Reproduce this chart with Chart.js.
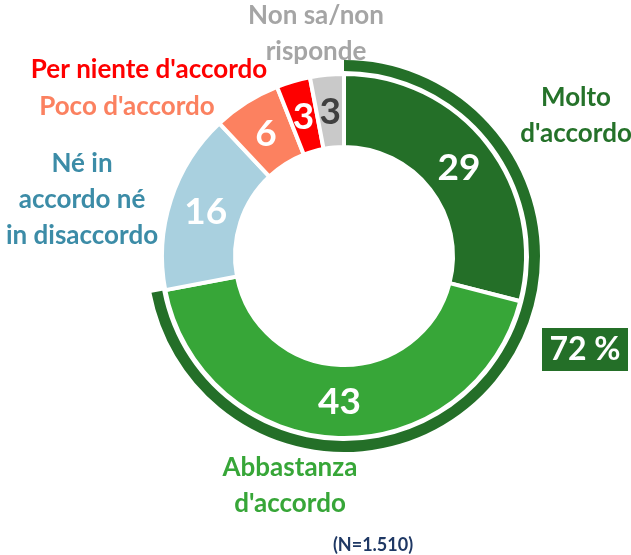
<!DOCTYPE html>
<html>
<head>
<meta charset="utf-8">
<script src="https://cdn.jsdelivr.net/npm/chart.js@4"></script>
<style>
  html, body { margin: 0; padding: 0; background: #fff; }
  #wrap { position: relative; width: 631px; height: 555px; }
  #myChart { position: absolute; left: 0; top: 0; }
</style>
</head>
<body>
<div id="wrap"><canvas id="myChart" width="631" height="555"></canvas></div>
<script>
// categorie e valori (%)
const categories = ["Molto d'accordo", "Abbastanza d'accordo", "Né in accordo né in disaccordo",
  "Poco d'accordo", "Per niente d'accordo", "Non sa/non risponde"];
const values = [29, 43, 16, 6, 3, 3];
const colors = ['#246f28', '#37a638', '#a9d0df', '#fc8160', '#fe0000', '#c9c9c9'];
const valueColors = ['#fff', '#fff', '#fff', '#fff', '#fff', '#404040'];

// arco esterno: totale accordo (molto + abbastanza)
const agreeTotal = [72, 28];
const agreeLabel = '72 %';
const sampleNote = '(N=1.510)';

// etichette di categoria (righe, colore, posizione)
const catLabels = [
  { lines: ['Molto', "d'accordo"], color: '#25722a', x: 576, y: 98 },
  { lines: ['Abbastanza', "d'accordo"], color: '#37a638', x: 290, y: 468 },
  { lines: ['Né in', 'accordo né', 'in disaccordo'], color: '#3c8ca7', x: 82, y: 164 },
  { lines: ["Poco d'accordo"], color: '#fb8160', x: 127, y: 107 },
  { lines: ["Per niente d'accordo"], color: '#fe0000', x: 149, y: 70 },
  { lines: ['Non sa/non', 'risponde'], color: '#a5a5a5', x: 316, y: 16 }
];

const FONT = 'Lato, "Open Sans", sans-serif';

const labelsPlugin = {
  id: 'labelsPlugin',
  afterDatasetsDraw(chart) {
    const ctx = chart.ctx;
    const meta = chart.getDatasetMeta(2);
    ctx.save();
    ctx.textAlign = 'center';
    ctx.textBaseline = 'middle';
    // valori dentro gli archi
    ctx.font = 'bold 37px ' + FONT;
    meta.data.forEach((arc, i) => {
      const p = arc.getCenterPoint();
      ctx.fillStyle = valueColors[i];
      ctx.fillText(values[i], p.x, p.y + 1);
    });
    // etichette categorie
    ctx.font = 'bold 26px ' + FONT;
    catLabels.forEach(l => {
      ctx.fillStyle = l.color;
      l.lines.forEach((t, k) => ctx.fillText(t, l.x, l.y + k * 36));
    });
    // riquadro 72 %
    ctx.fillStyle = '#246f28';
    ctx.fillRect(542, 328, 86, 43);
    ctx.fillStyle = '#fff';
    ctx.font = 'bold 32px ' + FONT;
    ctx.fillText(agreeLabel, 585, 350);
    // N
    ctx.fillStyle = '#1f3864';
    ctx.font = 'bold 18px ' + FONT;
    ctx.fillText(sampleNote, 373, 545);
    ctx.restore();
  }
};

new Chart(document.getElementById('myChart'), {
  type: 'doughnut',
  data: {
    labels: categories,
    datasets: [
      { data: agreeTotal, backgroundColor: ['#246f28', 'rgba(0,0,0,0)'], borderWidth: 0, weight: 11 },
      { data: [1], backgroundColor: ['rgba(0,0,0,0)'], borderWidth: 0, weight: 3 },
      { data: values, backgroundColor: colors, borderColor: '#fff', borderWidth: 4, weight: 73 }
    ]
  },
  options: {
    responsive: false,
    animation: false,
    radius: 196,
    cutout: '55.6%',
    layout: { padding: { left: 149, right: 92, top: 61, bottom: 104 } },
    plugins: { legend: { display: false }, tooltip: { enabled: false } }
  },
  plugins: [labelsPlugin]
});
</script>
</body>
</html>
